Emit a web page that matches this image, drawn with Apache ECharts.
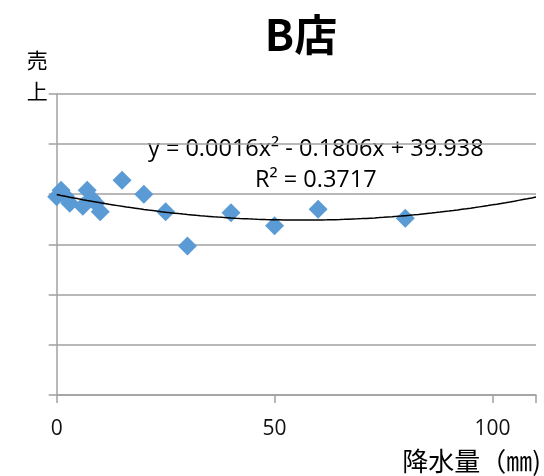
<!DOCTYPE html>
<html>
<head>
<meta charset="utf-8">
<script src="https://cdn.jsdelivr.net/npm/echarts@6/dist/echarts.min.js"></script>
<style>
html,body{margin:0;padding:0;background:#fff;overflow:hidden;width:544px;height:476px;}
#c{position:absolute;left:0;top:0;width:544px;height:476px;}
</style>
</head>
<body>
<div id="c"></div>
<script>
// ---- data ----
const rainfall = [0, 1, 2, 3, 6, 7, 8, 9, 10, 15, 20, 25, 30, 40, 50, 60, 80];
const sales    = [39.5, 40.8, 39.6, 38.2, 37.6, 40.8, 39.2, 38.2, 36.5, 42.8, 40.0, 36.5, 29.7, 36.3, 33.7, 37.0, 35.2];
// trendline coefficients shown on the chart: y = a x^2 + b x + c
const trendCoef = [0.0016, -0.1806, 39.938];
const trendLabel = 'y = 0.0016x² - 0.1806x + 39.938';
const r2Label = 'R² = 0.3717';
const xTicks = [0, 50, 100];
const titleText = 'B店';
const xName = '降水量（㎜)';
const yName = '売\n上';

const points = rainfall.map((x, i) => [x, sales[i]]);
const trend = [];
for (let x = 0; x <= 110; x += 1) {
  trend.push([x, trendCoef[0] * x * x + trendCoef[1] * x + trendCoef[2]]);
}

const cjk = '"Noto Sans CJK JP", "Noto Sans", sans-serif';
const latin = '"Open Sans", "Noto Sans", sans-serif';
const chart = echarts.init(document.getElementById('c'), null, {renderer: 'canvas', width: 544, height: 476});
chart.setOption({
  animation: false,
  backgroundColor: '#fff',
  title: {
    text: titleText,
    left: 296, top: 8, textAlign: 'center',
    textStyle: {fontFamily: cjk, fontSize: 43, fontWeight: 'bold', color: '#000'}
  },
  grid: {left: 56.7, right: 2.3, top: 93.8, bottom: 81, containLabel: false},
  xAxis: {
    type: 'value', min: 0, max: 110, interval: 50,
    name: xName, nameLocation: 'end', nameGap: 0,
    nameTextStyle: {fontFamily: cjk, fontSize: 26, color: '#000', align: 'right', verticalAlign: 'top', padding: [53, -5, 0, 0]},
    axisLine: {show: true, lineStyle: {color: '#a0a0a0', width: 1.5}},
    axisTick: {show: true, inside: false, length: 8, lineStyle: {color: '#a0a0a0', width: 1.5}},
    axisLabel: {
      margin: 24, fontFamily: latin, fontSize: 21, color: '#111',
      formatter: v => (xTicks.indexOf(v) >= 0 ? String(v) : '')
    },
    splitLine: {show: false}
  },
  yAxis: {
    type: 'value', min: 0, max: 60, interval: 10,
    name: yName, nameLocation: 'end', nameGap: 0,
    nameTextStyle: {fontFamily: cjk, fontSize: 21, lineHeight: 31, color: '#000', align: 'right', verticalAlign: 'bottom', padding: [0, 9, -13, 0]},
    axisLine: {show: true, onZero: false, lineStyle: {color: '#a0a0a0', width: 1.5}},
    axisTick: {show: true, inside: false, length: 8, lineStyle: {color: '#a0a0a0', width: 1.5}},
    axisLabel: {show: false},
    splitLine: {show: true, lineStyle: {color: '#a0a0a0', width: 1.5}}
  },
  graphic: [
    {type: 'text', left: 148, top: 137, style: {text: trendLabel, font: '23.5px ' + latin, fill: '#000'}},
    {type: 'text', left: 255, top: 168, style: {text: r2Label, font: '23.5px ' + latin, fill: '#000'}}
  ],
  series: [
    {
      type: 'scatter', data: points, symbol: 'diamond', symbolSize: 19,
      itemStyle: {color: '#5b9bd5', opacity: 1}, z: 2
    },
    {
      type: 'line', data: trend, showSymbol: false, symbol: 'none',
      lineStyle: {color: '#000', width: 1.5}, z: 3, silent: true
    }
  ]
});
</script>
</body>
</html>
